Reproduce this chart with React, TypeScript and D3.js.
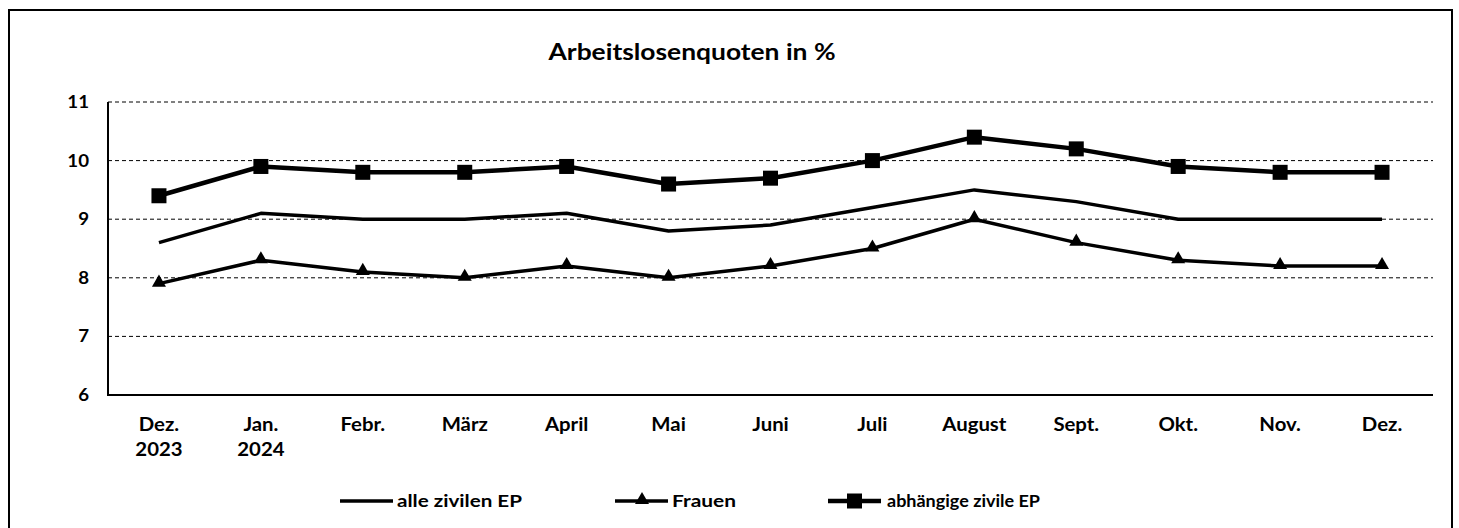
import React, { useEffect, useRef } from 'react';
import * as d3 from 'd3';

const months = ['Dez.|2023', 'Jan.|2024', 'Febr.', 'März', 'April', 'Mai', 'Juni', 'Juli', 'August', 'Sept.', 'Okt.', 'Nov.', 'Dez.'];
const alleZivilen = [8.6, 9.1, 9.0, 9.0, 9.1, 8.8, 8.9, 9.2, 9.5, 9.3, 9.0, 9.0, 9.0];
const frauen = [7.9, 8.3, 8.1, 8.0, 8.2, 8.0, 8.2, 8.5, 9.0, 8.6, 8.3, 8.2, 8.2];
const abhaengige = [9.4, 9.9, 9.8, 9.8, 9.9, 9.6, 9.7, 10.0, 10.4, 10.2, 9.9, 9.8, 9.8];
const yTicks = [6, 7, 8, 9, 10, 11];
const seriesNames = ['alle zivilen EP', 'Frauen', 'abhängige zivile EP'];

const W = 1459;
const H = 528;
const FONT = 'Lato, sans-serif';

const App = () => {
  const ref = useRef<SVGSVGElement>(null);

  useEffect(() => {
    const svg = d3.select(ref.current);
    svg.selectAll('*').remove();

    const left = 108, right = 1433, top = 102, bottom = 395;

    // text drawn a bit wider than the font, like the original
    const label = (parent: any, x: number, y: number, txt: string, size: number, sx: number, anchor: string) => {
      parent.append('g')
        .attr('transform', `translate(${x},${y}) scale(${sx},1)`)
        .append('text')
        .attr('text-anchor', anchor)
        .style('font-family', FONT).style('font-weight', 700).style('font-size', `${size}px`)
        .text(txt);
    };

    // outer frame
    svg.append('rect')
      .attr('x', 9).attr('y', 10)
      .attr('width', 1443).attr('height', 540)
      .attr('fill', 'white').attr('stroke', 'black').attr('stroke-width', 2);

    label(svg, 692, 60, 'Arbeitslosenquoten in %', 22, 1.2, 'middle');

    const x = d3.scaleBand<number>()
      .domain(d3.range(months.length))
      .range([left, right]);
    const y = d3.scaleLinear().domain([6, 11]).range([bottom, top]);
    const cx = (i: number) => (x(i) as number) + x.bandwidth() / 2;

    // grid
    svg.append('g')
      .selectAll('line')
      .data(yTicks.filter(t => t > 6))
      .enter()
      .append('line')
      .attr('x1', left).attr('x2', right)
      .attr('y1', d => y(d)).attr('y2', d => y(d))
      .attr('stroke', 'black').attr('stroke-width', 1)
      .attr('stroke-dasharray', '4,3');

    // axes
    svg.append('path')
      .attr('d', `M${left},${top}V${bottom}H${right}`)
      .attr('fill', 'none').attr('stroke', 'black').attr('stroke-width', 2);

    const yg = svg.append('g');
    yTicks.forEach(t => label(yg, 89, y(t) + 6, String(t), 17, 1.1, 'end'));

    const xg = svg.append('g');
    months.forEach((m, i) => {
      m.split('|').forEach((s, k) => label(xg, cx(i), 431 + k * 25, s, 18.5, 1.1, 'middle'));
    });

    const line = d3.line<number>().x((d, i) => cx(i)).y(d => y(d));

    const drawSeries = (vals: number[], width: number) => {
      svg.append('path')
        .datum(vals)
        .attr('d', line)
        .attr('fill', 'none').attr('stroke', 'black')
        .attr('stroke-width', width).attr('stroke-linejoin', 'round');
    };

    drawSeries(alleZivilen, 3.5);
    drawSeries(frauen, 3.5);
    drawSeries(abhaengige, 4.5);

    const tri = d3.symbol().type(d3.symbolTriangle).size(85);
    svg.append('g')
      .selectAll('path')
      .data(frauen)
      .enter()
      .append('path')
      .attr('d', tri)
      .attr('transform', (d, i) => `translate(${cx(i)},${y(d) - 1})`)
      .attr('fill', 'black');

    svg.append('g')
      .selectAll('rect')
      .data(abhaengige)
      .enter()
      .append('rect')
      .attr('x', (d, i) => cx(i) - 7.5).attr('y', d => y(d) - 7.5)
      .attr('width', 15).attr('height', 15)
      .attr('fill', 'black');

    // legend
    const ly = 501;
    const legendX = [340, 615, 828];
    const legendW = [125, 64, 153];
    legendX.forEach((lx, i) => {
      const g = svg.append('g').attr('transform', `translate(${lx},${ly})`);
      g.append('line')
        .attr('x1', 0).attr('x2', 53)
        .attr('stroke', 'black').attr('stroke-width', i === 2 ? 4.5 : 3.5);
      if (i === 1) g.append('path').attr('d', tri).attr('transform', 'translate(27,-1)');
      if (i === 2) g.append('rect').attr('x', 19).attr('y', -7.5).attr('width', 15).attr('height', 15);
      g.append('text')
        .attr('x', i === 2 ? 59 : 57).attr('y', 6)
        .attr('textLength', legendW[i]).attr('lengthAdjust', 'spacingAndGlyphs')
        .style('font-family', FONT).style('font-weight', 700).style('font-size', '17px')
        .text(seriesNames[i]);
    });
  }, []);

  return <svg ref={ref} width={W} height={H} style={{ position: 'absolute', left: 0, top: 0, background: 'white' }} />;
};

export default App;
